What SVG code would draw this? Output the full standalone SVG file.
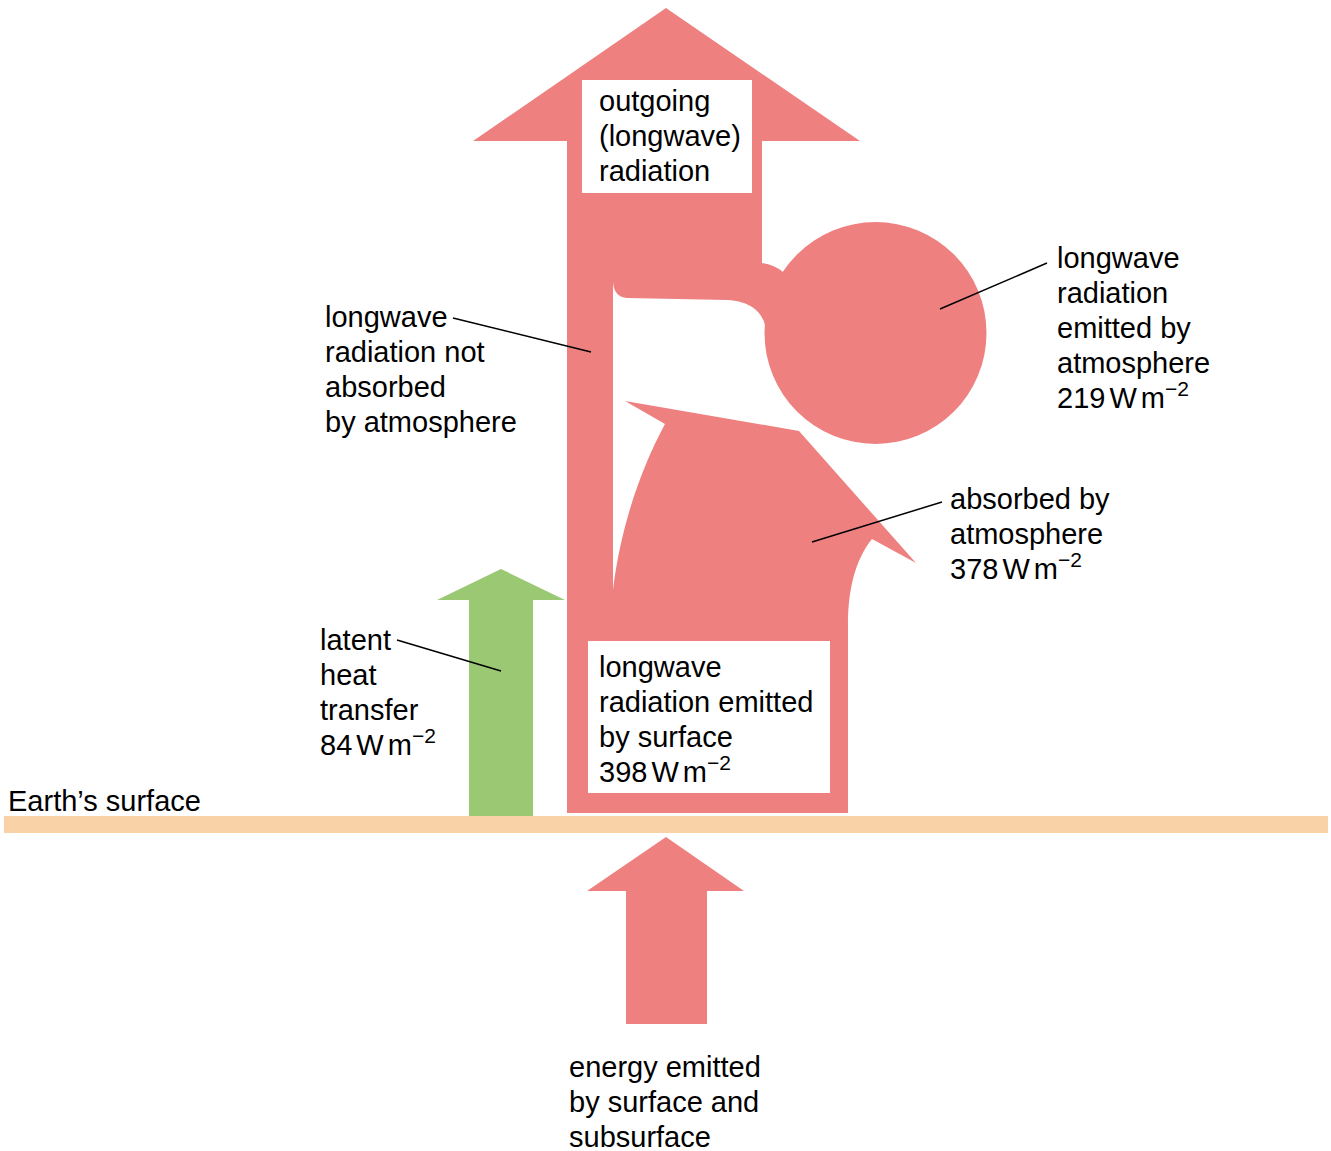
<svg xmlns="http://www.w3.org/2000/svg" width="1331" height="1151" viewBox="0 0 1331 1151">
<style>
.pink{fill:#EE8080;}
.green{fill:#9AC873;}
.surf{fill:#F9D2A8;}
.box{fill:#FFFFFF;}
text{font-family:"Liberation Sans",Arial,sans-serif;font-size:29px;fill:#000;}
.unit{word-spacing:-4px;}
.sup{font-size:21px;}
.lead{stroke:#000;stroke-width:1.5;fill:none;}
</style>
<rect width="1331" height="1151" fill="#FFFFFF"/>
<g id="surface">
<rect class="surf" x="4" y="816" width="1324" height="17"/>
<text x="8" y="811">Earth’s surface</text>
</g>
<g id="main-flow">
<path class="pink" d="M666,8 L860,141 L762,141 L762,263 Q775,265 783,272 L800,300 L768,330 L765,325 C762,312 750,301 727,300 L627,298 Q614,297 613,282 L613,590 C620,530 640,470 665,424 L625,401 L799,431 L916,563 L872,539 C855,560 848,590 848,625 L848,813 L567,813 L567,141 L473,141 Z"/>
</g>
<g id="atmosphere-emission">
<circle class="pink" cx="875.5" cy="333" r="111"/>
</g>
<g id="latent-heat">
<path class="green" d="M501,569 L565,600 L533,600 L533,816 L469,816 L469,600 L437,600 Z"/>
</g>
<g id="subsurface">
<path class="pink" d="M666,837 L744,891 L707,891 L707,1024 L626,1024 L626,891 L587,891 Z"/>
</g>
<g id="outgoing-label">
<rect class="box" x="582" y="80" width="170" height="113"/>
<text x="599" y="111">outgoing</text>
<text x="599" y="146">(longwave)</text>
<text x="599" y="181">radiation</text>
</g>
<g id="surface-emission-label">
<rect class="box" x="588" y="641" width="242" height="152"/>
<text x="599" y="677">longwave</text>
<text x="599" y="712">radiation emitted</text>
<text x="599" y="747">by surface</text>
<text class="unit" x="599" y="782">398 W m<tspan class="sup" dy="-12">−2</tspan></text>
</g>
<g id="not-absorbed-label">
<text x="325" y="327">longwave</text>
<text x="325" y="362">radiation not</text>
<text x="325" y="397">absorbed</text>
<text x="325" y="432">by atmosphere</text>
</g>
<g id="atmosphere-label">
<text x="1057" y="268">longwave</text>
<text x="1057" y="303">radiation</text>
<text x="1057" y="338">emitted by</text>
<text x="1057" y="373">atmosphere</text>
<text class="unit" x="1057" y="408">219 W m<tspan class="sup" dy="-12">−2</tspan></text>
</g>
<g id="absorbed-label">
<text x="950" y="509">absorbed by</text>
<text x="950" y="544">atmosphere</text>
<text class="unit" x="950" y="579">378 W m<tspan class="sup" dy="-12">−2</tspan></text>
</g>
<g id="latent-label">
<text x="320" y="650">latent</text>
<text x="320" y="685">heat</text>
<text x="320" y="720">transfer</text>
<text class="unit" x="320" y="755">84 W m<tspan class="sup" dy="-12">−2</tspan></text>
</g>
<g id="subsurface-label">
<text x="569" y="1077">energy emitted</text>
<text x="569" y="1112">by surface and</text>
<text x="569" y="1147">subsurface</text>
</g>
<g id="connectors">
<line class="lead" x1="453" y1="318" x2="591" y2="352"/>
<line class="lead" x1="1047" y1="263" x2="940" y2="309"/>
<line class="lead" x1="942" y1="502" x2="812" y2="542"/>
<line class="lead" x1="397" y1="640" x2="501" y2="671"/>
</g>
</svg>
